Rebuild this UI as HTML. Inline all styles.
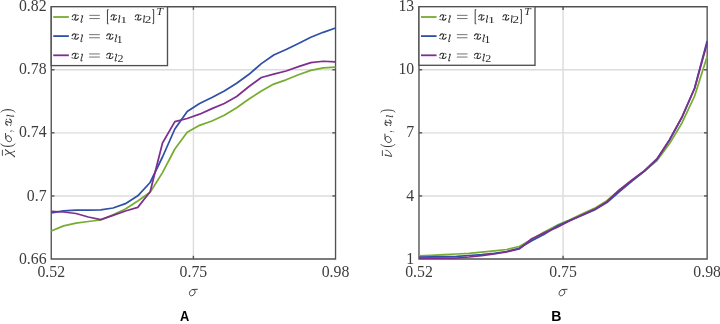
<!DOCTYPE html>
<html><head><meta charset="utf-8"><style>
html,body{margin:0;padding:0;background:#fff;}
body{width:720px;height:324px;overflow:hidden;font-family:"Liberation Serif",serif;}
svg{display:block;will-change:transform;}
</style></head><body>
<svg width="720" height="324" viewBox="0 0 720 324">
<rect width="720" height="324" fill="#fff"/>
<line x1="51.24" y1="69.78" x2="335.55" y2="69.78" stroke="#dcdcdc" stroke-width="1.4"/>
<line x1="51.24" y1="132.85" x2="335.55" y2="132.85" stroke="#dcdcdc" stroke-width="1.4"/>
<line x1="51.24" y1="195.93" x2="335.55" y2="195.93" stroke="#dcdcdc" stroke-width="1.4"/>
<line x1="193.40" y1="6.7" x2="193.40" y2="259.0" stroke="#dcdcdc" stroke-width="1.4"/>
<path d="M51.24 6.7H335.55V259.0H51.24Z" fill="none" stroke="#505050" stroke-width="1.35"/>
<line x1="51.24" y1="69.78" x2="54.440000000000005" y2="69.78" stroke="#505050" stroke-width="1.35"/>
<line x1="335.55" y1="69.78" x2="332.35" y2="69.78" stroke="#505050" stroke-width="1.35"/>
<line x1="51.24" y1="132.85" x2="54.440000000000005" y2="132.85" stroke="#505050" stroke-width="1.35"/>
<line x1="335.55" y1="132.85" x2="332.35" y2="132.85" stroke="#505050" stroke-width="1.35"/>
<line x1="51.24" y1="195.93" x2="54.440000000000005" y2="195.93" stroke="#505050" stroke-width="1.35"/>
<line x1="335.55" y1="195.93" x2="332.35" y2="195.93" stroke="#505050" stroke-width="1.35"/>
<line x1="193.40" y1="6.7" x2="193.40" y2="9.9" stroke="#505050" stroke-width="1.35"/>
<line x1="193.40" y1="259.0" x2="193.40" y2="255.8" stroke="#505050" stroke-width="1.35"/>
<polyline points="51.24,231.00 63.60,225.90 75.96,223.10 88.32,221.50 100.69,220.00 113.05,214.80 125.41,209.00 137.77,201.00 150.13,192.30 162.49,172.60 174.85,149.00 187.21,132.30 199.58,125.30 211.94,121.00 224.30,115.30 236.66,107.80 249.02,99.00 261.38,91.00 273.74,84.10 286.10,79.80 298.47,74.80 310.83,70.40 323.19,67.90 335.55,67.10" fill="none" stroke="#77ac30" stroke-width="1.75" stroke-linejoin="round" stroke-linecap="butt"/>
<polyline points="51.24,212.90 63.60,210.80 75.96,210.10 88.32,210.10 100.69,209.80 113.05,208.00 125.41,203.70 137.77,195.80 150.13,182.50 162.49,157.00 174.85,129.00 187.21,111.50 199.58,103.50 211.94,97.50 224.30,91.00 236.66,83.30 249.02,74.30 261.38,63.60 273.74,55.00 286.10,49.50 298.47,43.50 310.83,37.30 323.19,32.30 335.55,28.00" fill="none" stroke="#3050a8" stroke-width="1.75" stroke-linejoin="round" stroke-linecap="butt"/>
<polyline points="51.24,211.30 63.60,212.00 75.96,213.50 88.32,217.00 100.69,219.70 113.05,215.40 125.41,211.00 137.77,207.40 150.13,191.70 162.49,143.00 174.85,121.60 187.21,118.50 199.58,114.20 211.94,108.60 224.30,103.50 236.66,96.50 249.02,86.50 261.38,77.50 273.74,74.20 286.10,71.00 298.47,66.70 310.83,62.70 323.19,61.25 335.55,61.90" fill="none" stroke="#7e2f8e" stroke-width="1.75" stroke-linejoin="round" stroke-linecap="butt"/>
<line x1="418.97" y1="69.78" x2="707.15" y2="69.78" stroke="#dcdcdc" stroke-width="1.4"/>
<line x1="418.97" y1="132.85" x2="707.15" y2="132.85" stroke="#dcdcdc" stroke-width="1.4"/>
<line x1="418.97" y1="195.93" x2="707.15" y2="195.93" stroke="#dcdcdc" stroke-width="1.4"/>
<line x1="563.06" y1="6.7" x2="563.06" y2="259.0" stroke="#dcdcdc" stroke-width="1.4"/>
<path d="M418.97 6.7H707.15V259.0H418.97Z" fill="none" stroke="#505050" stroke-width="1.35"/>
<line x1="418.97" y1="69.78" x2="422.17" y2="69.78" stroke="#505050" stroke-width="1.35"/>
<line x1="707.15" y1="69.78" x2="703.9499999999999" y2="69.78" stroke="#505050" stroke-width="1.35"/>
<line x1="418.97" y1="132.85" x2="422.17" y2="132.85" stroke="#505050" stroke-width="1.35"/>
<line x1="707.15" y1="132.85" x2="703.9499999999999" y2="132.85" stroke="#505050" stroke-width="1.35"/>
<line x1="418.97" y1="195.93" x2="422.17" y2="195.93" stroke="#505050" stroke-width="1.35"/>
<line x1="707.15" y1="195.93" x2="703.9499999999999" y2="195.93" stroke="#505050" stroke-width="1.35"/>
<line x1="563.06" y1="6.7" x2="563.06" y2="9.9" stroke="#505050" stroke-width="1.35"/>
<line x1="563.06" y1="259.0" x2="563.06" y2="255.8" stroke="#505050" stroke-width="1.35"/>
<polyline points="418.97,255.80 431.50,255.30 444.03,254.70 456.56,254.00 469.09,253.30 481.62,252.20 494.15,250.90 506.68,249.50 519.21,246.50 531.74,239.60 544.27,232.10 556.80,225.40 569.32,220.00 581.85,214.00 594.38,208.40 606.91,200.70 619.44,190.00 631.97,180.50 644.50,171.00 657.03,160.50 669.56,143.60 682.09,122.70 694.62,96.00 707.15,56.50" fill="none" stroke="#77ac30" stroke-width="1.75" stroke-linejoin="round" stroke-linecap="butt"/>
<polyline points="418.97,257.00 431.50,256.80 444.03,256.60 456.56,256.40 469.09,255.50 481.62,254.70 494.15,253.30 506.68,251.50 519.21,248.30 531.74,240.80 544.27,234.20 556.80,226.30 569.32,220.60 581.85,215.50 594.38,210.00 606.91,202.50 619.44,191.50 631.97,181.00 644.50,171.00 657.03,159.00 669.56,140.00 682.09,117.00 694.62,88.00 707.15,41.00" fill="none" stroke="#3050a8" stroke-width="1.75" stroke-linejoin="round" stroke-linecap="butt"/>
<polyline points="418.97,258.00 431.50,258.00 444.03,258.00 456.56,258.00 469.09,257.00 481.62,255.60 494.15,254.00 506.68,251.80 519.21,249.00 531.74,238.75 544.27,232.90 556.80,227.50 569.32,221.00 581.85,215.00 594.38,209.40 606.91,201.70 619.44,190.00 631.97,180.00 644.50,170.60 657.03,158.90 669.56,139.70 682.09,116.90 694.62,88.50 707.15,43.00" fill="none" stroke="#7e2f8e" stroke-width="1.75" stroke-linejoin="round" stroke-linecap="butt"/>
<rect x="51.24" y="6.7" width="116.26" height="58.90" fill="#fff" stroke="#505050" stroke-width="1.35"/>
<line x1="53.24" y1="17.0" x2="68.84" y2="17.0" stroke="#77ac30" stroke-width="1.8"/>
<line x1="53.24" y1="36.1" x2="68.84" y2="36.1" stroke="#3050a8" stroke-width="1.8"/>
<line x1="53.24" y1="55.3" x2="68.84" y2="55.3" stroke="#7e2f8e" stroke-width="1.8"/>
<g transform="translate(71.450,14.550) scale(7.300,5.700)"><path d="M0.12 0.36 C0.18 0.12 0.36 0.02 0.5 0.05 C0.63 0.09 0.62 0.22 0.58 0.36 L0.47 0.74 C0.43 0.9 0.5 0.99 0.63 0.97 C0.76 0.95 0.88 0.84 0.93 0.68" fill="none" stroke="#2a2a2a" stroke-width="1.1" vector-effect="non-scaling-stroke" stroke-linecap="round"/><path d="M0.92 0.16 C0.88 0.02 0.7 0.0 0.6 0.12 M0.1 0.85 C0.14 0.99 0.33 1.0 0.44 0.88" fill="none" stroke="#2a2a2a" stroke-width="0.5" vector-effect="non-scaling-stroke" stroke-linecap="round"/><ellipse cx="0.9" cy="0.17" rx="0.0753" ry="0.0965" fill="#2a2a2a"/><ellipse cx="0.11" cy="0.84" rx="0.0753" ry="0.0965" fill="#2a2a2a"/></g>
<g transform="translate(80.300,15.600) scale(2.500,7.400)"><path d="M0.55 0.04 L0.98 0.02 L0.3 0.76 C0.16 0.96 0.42 1.02 0.72 0.84" fill="none" stroke="#2a2a2a" stroke-width="1.0" vector-effect="non-scaling-stroke" stroke-linecap="round" stroke-linejoin="round"/></g>
<path d="M89.30 15.35H99.80M89.30 18.55H99.80" stroke="#2a2a2a" stroke-width="0.65" fill="none"/>
<path d="M108.55 9.70H107.45V23.80H108.55" stroke="#2a2a2a" stroke-width="0.9" fill="none"/>
<g transform="translate(110.350,14.550) scale(6.500,5.700)"><path d="M0.12 0.36 C0.18 0.12 0.36 0.02 0.5 0.05 C0.63 0.09 0.62 0.22 0.58 0.36 L0.47 0.74 C0.43 0.9 0.5 0.99 0.63 0.97 C0.76 0.95 0.88 0.84 0.93 0.68" fill="none" stroke="#2a2a2a" stroke-width="1.1" vector-effect="non-scaling-stroke" stroke-linecap="round"/><path d="M0.92 0.16 C0.88 0.02 0.7 0.0 0.6 0.12 M0.1 0.85 C0.14 0.99 0.33 1.0 0.44 0.88" fill="none" stroke="#2a2a2a" stroke-width="0.5" vector-effect="non-scaling-stroke" stroke-linecap="round"/><ellipse cx="0.9" cy="0.17" rx="0.0846" ry="0.0965" fill="#2a2a2a"/><ellipse cx="0.11" cy="0.84" rx="0.0846" ry="0.0965" fill="#2a2a2a"/></g>
<g transform="translate(118.200,15.500) scale(1.800,7.500)"><path d="M0.55 0.04 L0.98 0.02 L0.3 0.76 C0.16 0.96 0.42 1.02 0.72 0.84" fill="none" stroke="#2a2a2a" stroke-width="1.0" vector-effect="non-scaling-stroke" stroke-linecap="round" stroke-linejoin="round"/></g>
<text transform="translate(120.175,23.200) scale(0.69602,0.44697)" font-family="Liberation Serif" font-size="20.0" fill="#2a2a2a">1</text>
<g transform="translate(134.450,14.550) scale(7.100,5.700)"><path d="M0.12 0.36 C0.18 0.12 0.36 0.02 0.5 0.05 C0.63 0.09 0.62 0.22 0.58 0.36 L0.47 0.74 C0.43 0.9 0.5 0.99 0.63 0.97 C0.76 0.95 0.88 0.84 0.93 0.68" fill="none" stroke="#2a2a2a" stroke-width="1.1" vector-effect="non-scaling-stroke" stroke-linecap="round"/><path d="M0.92 0.16 C0.88 0.02 0.7 0.0 0.6 0.12 M0.1 0.85 C0.14 0.99 0.33 1.0 0.44 0.88" fill="none" stroke="#2a2a2a" stroke-width="0.5" vector-effect="non-scaling-stroke" stroke-linecap="round"/><ellipse cx="0.9" cy="0.17" rx="0.0775" ry="0.0965" fill="#2a2a2a"/><ellipse cx="0.11" cy="0.84" rx="0.0775" ry="0.0965" fill="#2a2a2a"/></g>
<g transform="translate(143.300,15.500) scale(1.200,7.500)"><path d="M0.55 0.04 L0.98 0.02 L0.3 0.76 C0.16 0.96 0.42 1.02 0.72 0.84" fill="none" stroke="#2a2a2a" stroke-width="1.0" vector-effect="non-scaling-stroke" stroke-linecap="round" stroke-linejoin="round"/></g>
<text transform="translate(144.718,23.200) scale(0.66085,0.47583)" font-family="Liberation Serif" font-size="20.0" fill="#2a2a2a">2</text>
<path d="M152.40 9.60H153.65V23.60H152.40" stroke="#2a2a2a" stroke-width="0.9" fill="none"/>
<text transform="translate(156.531,15.000) scale(0.58288,0.48855)" font-family="Liberation Serif" font-size="20.0" font-style="italic" fill="#2a2a2a">T</text>
<g transform="translate(71.250,33.650) scale(7.650,5.750)"><path d="M0.12 0.36 C0.18 0.12 0.36 0.02 0.5 0.05 C0.63 0.09 0.62 0.22 0.58 0.36 L0.47 0.74 C0.43 0.9 0.5 0.99 0.63 0.97 C0.76 0.95 0.88 0.84 0.93 0.68" fill="none" stroke="#2a2a2a" stroke-width="1.1" vector-effect="non-scaling-stroke" stroke-linecap="round"/><path d="M0.92 0.16 C0.88 0.02 0.7 0.0 0.6 0.12 M0.1 0.85 C0.14 0.99 0.33 1.0 0.44 0.88" fill="none" stroke="#2a2a2a" stroke-width="0.5" vector-effect="non-scaling-stroke" stroke-linecap="round"/><ellipse cx="0.9" cy="0.17" rx="0.0719" ry="0.0957" fill="#2a2a2a"/><ellipse cx="0.11" cy="0.84" rx="0.0719" ry="0.0957" fill="#2a2a2a"/></g>
<g transform="translate(80.300,34.700) scale(2.400,7.700)"><path d="M0.55 0.04 L0.98 0.02 L0.3 0.76 C0.16 0.96 0.42 1.02 0.72 0.84" fill="none" stroke="#2a2a2a" stroke-width="1.0" vector-effect="non-scaling-stroke" stroke-linecap="round" stroke-linejoin="round"/></g>
<path d="M89.10 34.65H99.80M89.10 37.75H99.80" stroke="#2a2a2a" stroke-width="0.65" fill="none"/>
<g transform="translate(105.850,33.650) scale(7.600,5.750)"><path d="M0.12 0.36 C0.18 0.12 0.36 0.02 0.5 0.05 C0.63 0.09 0.62 0.22 0.58 0.36 L0.47 0.74 C0.43 0.9 0.5 0.99 0.63 0.97 C0.76 0.95 0.88 0.84 0.93 0.68" fill="none" stroke="#2a2a2a" stroke-width="1.1" vector-effect="non-scaling-stroke" stroke-linecap="round"/><path d="M0.92 0.16 C0.88 0.02 0.7 0.0 0.6 0.12 M0.1 0.85 C0.14 0.99 0.33 1.0 0.44 0.88" fill="none" stroke="#2a2a2a" stroke-width="0.5" vector-effect="non-scaling-stroke" stroke-linecap="round"/><ellipse cx="0.9" cy="0.17" rx="0.0724" ry="0.0957" fill="#2a2a2a"/><ellipse cx="0.11" cy="0.84" rx="0.0724" ry="0.0957" fill="#2a2a2a"/></g>
<g transform="translate(114.550,34.700) scale(2.350,7.700)"><path d="M0.55 0.04 L0.98 0.02 L0.3 0.76 C0.16 0.96 0.42 1.02 0.72 0.84" fill="none" stroke="#2a2a2a" stroke-width="1.0" vector-effect="non-scaling-stroke" stroke-linecap="round" stroke-linejoin="round"/></g>
<text transform="translate(116.600,42.600) scale(0.62500,0.47727)" font-family="Liberation Serif" font-size="20.0" fill="#2a2a2a">1</text>
<g transform="translate(71.250,52.950) scale(7.650,5.750)"><path d="M0.12 0.36 C0.18 0.12 0.36 0.02 0.5 0.05 C0.63 0.09 0.62 0.22 0.58 0.36 L0.47 0.74 C0.43 0.9 0.5 0.99 0.63 0.97 C0.76 0.95 0.88 0.84 0.93 0.68" fill="none" stroke="#2a2a2a" stroke-width="1.1" vector-effect="non-scaling-stroke" stroke-linecap="round"/><path d="M0.92 0.16 C0.88 0.02 0.7 0.0 0.6 0.12 M0.1 0.85 C0.14 0.99 0.33 1.0 0.44 0.88" fill="none" stroke="#2a2a2a" stroke-width="0.5" vector-effect="non-scaling-stroke" stroke-linecap="round"/><ellipse cx="0.9" cy="0.17" rx="0.0719" ry="0.0957" fill="#2a2a2a"/><ellipse cx="0.11" cy="0.84" rx="0.0719" ry="0.0957" fill="#2a2a2a"/></g>
<g transform="translate(80.300,54.000) scale(2.400,7.700)"><path d="M0.55 0.04 L0.98 0.02 L0.3 0.76 C0.16 0.96 0.42 1.02 0.72 0.84" fill="none" stroke="#2a2a2a" stroke-width="1.0" vector-effect="non-scaling-stroke" stroke-linecap="round" stroke-linejoin="round"/></g>
<path d="M89.10 53.95H99.80M89.10 57.05H99.80" stroke="#2a2a2a" stroke-width="0.65" fill="none"/>
<g transform="translate(105.850,52.950) scale(7.600,5.750)"><path d="M0.12 0.36 C0.18 0.12 0.36 0.02 0.5 0.05 C0.63 0.09 0.62 0.22 0.58 0.36 L0.47 0.74 C0.43 0.9 0.5 0.99 0.63 0.97 C0.76 0.95 0.88 0.84 0.93 0.68" fill="none" stroke="#2a2a2a" stroke-width="1.1" vector-effect="non-scaling-stroke" stroke-linecap="round"/><path d="M0.92 0.16 C0.88 0.02 0.7 0.0 0.6 0.12 M0.1 0.85 C0.14 0.99 0.33 1.0 0.44 0.88" fill="none" stroke="#2a2a2a" stroke-width="0.5" vector-effect="non-scaling-stroke" stroke-linecap="round"/><ellipse cx="0.9" cy="0.17" rx="0.0724" ry="0.0957" fill="#2a2a2a"/><ellipse cx="0.11" cy="0.84" rx="0.0724" ry="0.0957" fill="#2a2a2a"/></g>
<g transform="translate(114.550,54.000) scale(2.350,7.700)"><path d="M0.55 0.04 L0.98 0.02 L0.3 0.76 C0.16 0.96 0.42 1.02 0.72 0.84" fill="none" stroke="#2a2a2a" stroke-width="1.0" vector-effect="non-scaling-stroke" stroke-linecap="round" stroke-linejoin="round"/></g>
<text transform="translate(117.573,61.900) scale(0.59850,0.49094)" font-family="Liberation Serif" font-size="20.0" fill="#2a2a2a">2</text>
<rect x="418.97" y="6.7" width="116.03" height="58.60" fill="#fff" stroke="#505050" stroke-width="1.35"/>
<line x1="420.97" y1="17.0" x2="436.57" y2="17.0" stroke="#77ac30" stroke-width="1.8"/>
<line x1="420.97" y1="36.1" x2="436.57" y2="36.1" stroke="#3050a8" stroke-width="1.8"/>
<line x1="420.97" y1="55.3" x2="436.57" y2="55.3" stroke="#7e2f8e" stroke-width="1.8"/>
<g transform="translate(439.180,14.550) scale(7.300,5.700)"><path d="M0.12 0.36 C0.18 0.12 0.36 0.02 0.5 0.05 C0.63 0.09 0.62 0.22 0.58 0.36 L0.47 0.74 C0.43 0.9 0.5 0.99 0.63 0.97 C0.76 0.95 0.88 0.84 0.93 0.68" fill="none" stroke="#2a2a2a" stroke-width="1.1" vector-effect="non-scaling-stroke" stroke-linecap="round"/><path d="M0.92 0.16 C0.88 0.02 0.7 0.0 0.6 0.12 M0.1 0.85 C0.14 0.99 0.33 1.0 0.44 0.88" fill="none" stroke="#2a2a2a" stroke-width="0.5" vector-effect="non-scaling-stroke" stroke-linecap="round"/><ellipse cx="0.9" cy="0.17" rx="0.0753" ry="0.0965" fill="#2a2a2a"/><ellipse cx="0.11" cy="0.84" rx="0.0753" ry="0.0965" fill="#2a2a2a"/></g>
<g transform="translate(448.030,15.600) scale(2.500,7.400)"><path d="M0.55 0.04 L0.98 0.02 L0.3 0.76 C0.16 0.96 0.42 1.02 0.72 0.84" fill="none" stroke="#2a2a2a" stroke-width="1.0" vector-effect="non-scaling-stroke" stroke-linecap="round" stroke-linejoin="round"/></g>
<path d="M457.03 15.35H467.53M457.03 18.55H467.53" stroke="#2a2a2a" stroke-width="0.65" fill="none"/>
<path d="M476.28 9.70H475.18V23.80H476.28" stroke="#2a2a2a" stroke-width="0.9" fill="none"/>
<g transform="translate(478.080,14.550) scale(6.500,5.700)"><path d="M0.12 0.36 C0.18 0.12 0.36 0.02 0.5 0.05 C0.63 0.09 0.62 0.22 0.58 0.36 L0.47 0.74 C0.43 0.9 0.5 0.99 0.63 0.97 C0.76 0.95 0.88 0.84 0.93 0.68" fill="none" stroke="#2a2a2a" stroke-width="1.1" vector-effect="non-scaling-stroke" stroke-linecap="round"/><path d="M0.92 0.16 C0.88 0.02 0.7 0.0 0.6 0.12 M0.1 0.85 C0.14 0.99 0.33 1.0 0.44 0.88" fill="none" stroke="#2a2a2a" stroke-width="0.5" vector-effect="non-scaling-stroke" stroke-linecap="round"/><ellipse cx="0.9" cy="0.17" rx="0.0846" ry="0.0965" fill="#2a2a2a"/><ellipse cx="0.11" cy="0.84" rx="0.0846" ry="0.0965" fill="#2a2a2a"/></g>
<g transform="translate(485.930,15.500) scale(1.800,7.500)"><path d="M0.55 0.04 L0.98 0.02 L0.3 0.76 C0.16 0.96 0.42 1.02 0.72 0.84" fill="none" stroke="#2a2a2a" stroke-width="1.0" vector-effect="non-scaling-stroke" stroke-linecap="round" stroke-linejoin="round"/></g>
<text transform="translate(487.905,23.200) scale(0.69602,0.44697)" font-family="Liberation Serif" font-size="20.0" fill="#2a2a2a">1</text>
<g transform="translate(502.180,14.550) scale(7.100,5.700)"><path d="M0.12 0.36 C0.18 0.12 0.36 0.02 0.5 0.05 C0.63 0.09 0.62 0.22 0.58 0.36 L0.47 0.74 C0.43 0.9 0.5 0.99 0.63 0.97 C0.76 0.95 0.88 0.84 0.93 0.68" fill="none" stroke="#2a2a2a" stroke-width="1.1" vector-effect="non-scaling-stroke" stroke-linecap="round"/><path d="M0.92 0.16 C0.88 0.02 0.7 0.0 0.6 0.12 M0.1 0.85 C0.14 0.99 0.33 1.0 0.44 0.88" fill="none" stroke="#2a2a2a" stroke-width="0.5" vector-effect="non-scaling-stroke" stroke-linecap="round"/><ellipse cx="0.9" cy="0.17" rx="0.0775" ry="0.0965" fill="#2a2a2a"/><ellipse cx="0.11" cy="0.84" rx="0.0775" ry="0.0965" fill="#2a2a2a"/></g>
<g transform="translate(511.030,15.500) scale(1.200,7.500)"><path d="M0.55 0.04 L0.98 0.02 L0.3 0.76 C0.16 0.96 0.42 1.02 0.72 0.84" fill="none" stroke="#2a2a2a" stroke-width="1.0" vector-effect="non-scaling-stroke" stroke-linecap="round" stroke-linejoin="round"/></g>
<text transform="translate(512.448,23.200) scale(0.66085,0.47583)" font-family="Liberation Serif" font-size="20.0" fill="#2a2a2a">2</text>
<path d="M520.13 9.60H521.38V23.60H520.13" stroke="#2a2a2a" stroke-width="0.9" fill="none"/>
<text transform="translate(524.261,15.000) scale(0.58288,0.48855)" font-family="Liberation Serif" font-size="20.0" font-style="italic" fill="#2a2a2a">T</text>
<g transform="translate(438.980,33.650) scale(7.650,5.750)"><path d="M0.12 0.36 C0.18 0.12 0.36 0.02 0.5 0.05 C0.63 0.09 0.62 0.22 0.58 0.36 L0.47 0.74 C0.43 0.9 0.5 0.99 0.63 0.97 C0.76 0.95 0.88 0.84 0.93 0.68" fill="none" stroke="#2a2a2a" stroke-width="1.1" vector-effect="non-scaling-stroke" stroke-linecap="round"/><path d="M0.92 0.16 C0.88 0.02 0.7 0.0 0.6 0.12 M0.1 0.85 C0.14 0.99 0.33 1.0 0.44 0.88" fill="none" stroke="#2a2a2a" stroke-width="0.5" vector-effect="non-scaling-stroke" stroke-linecap="round"/><ellipse cx="0.9" cy="0.17" rx="0.0719" ry="0.0957" fill="#2a2a2a"/><ellipse cx="0.11" cy="0.84" rx="0.0719" ry="0.0957" fill="#2a2a2a"/></g>
<g transform="translate(448.030,34.700) scale(2.400,7.700)"><path d="M0.55 0.04 L0.98 0.02 L0.3 0.76 C0.16 0.96 0.42 1.02 0.72 0.84" fill="none" stroke="#2a2a2a" stroke-width="1.0" vector-effect="non-scaling-stroke" stroke-linecap="round" stroke-linejoin="round"/></g>
<path d="M456.83 34.65H467.53M456.83 37.75H467.53" stroke="#2a2a2a" stroke-width="0.65" fill="none"/>
<g transform="translate(473.580,33.650) scale(7.600,5.750)"><path d="M0.12 0.36 C0.18 0.12 0.36 0.02 0.5 0.05 C0.63 0.09 0.62 0.22 0.58 0.36 L0.47 0.74 C0.43 0.9 0.5 0.99 0.63 0.97 C0.76 0.95 0.88 0.84 0.93 0.68" fill="none" stroke="#2a2a2a" stroke-width="1.1" vector-effect="non-scaling-stroke" stroke-linecap="round"/><path d="M0.92 0.16 C0.88 0.02 0.7 0.0 0.6 0.12 M0.1 0.85 C0.14 0.99 0.33 1.0 0.44 0.88" fill="none" stroke="#2a2a2a" stroke-width="0.5" vector-effect="non-scaling-stroke" stroke-linecap="round"/><ellipse cx="0.9" cy="0.17" rx="0.0724" ry="0.0957" fill="#2a2a2a"/><ellipse cx="0.11" cy="0.84" rx="0.0724" ry="0.0957" fill="#2a2a2a"/></g>
<g transform="translate(482.280,34.700) scale(2.350,7.700)"><path d="M0.55 0.04 L0.98 0.02 L0.3 0.76 C0.16 0.96 0.42 1.02 0.72 0.84" fill="none" stroke="#2a2a2a" stroke-width="1.0" vector-effect="non-scaling-stroke" stroke-linecap="round" stroke-linejoin="round"/></g>
<text transform="translate(484.330,42.600) scale(0.62500,0.47727)" font-family="Liberation Serif" font-size="20.0" fill="#2a2a2a">1</text>
<g transform="translate(438.980,52.950) scale(7.650,5.750)"><path d="M0.12 0.36 C0.18 0.12 0.36 0.02 0.5 0.05 C0.63 0.09 0.62 0.22 0.58 0.36 L0.47 0.74 C0.43 0.9 0.5 0.99 0.63 0.97 C0.76 0.95 0.88 0.84 0.93 0.68" fill="none" stroke="#2a2a2a" stroke-width="1.1" vector-effect="non-scaling-stroke" stroke-linecap="round"/><path d="M0.92 0.16 C0.88 0.02 0.7 0.0 0.6 0.12 M0.1 0.85 C0.14 0.99 0.33 1.0 0.44 0.88" fill="none" stroke="#2a2a2a" stroke-width="0.5" vector-effect="non-scaling-stroke" stroke-linecap="round"/><ellipse cx="0.9" cy="0.17" rx="0.0719" ry="0.0957" fill="#2a2a2a"/><ellipse cx="0.11" cy="0.84" rx="0.0719" ry="0.0957" fill="#2a2a2a"/></g>
<g transform="translate(448.030,54.000) scale(2.400,7.700)"><path d="M0.55 0.04 L0.98 0.02 L0.3 0.76 C0.16 0.96 0.42 1.02 0.72 0.84" fill="none" stroke="#2a2a2a" stroke-width="1.0" vector-effect="non-scaling-stroke" stroke-linecap="round" stroke-linejoin="round"/></g>
<path d="M456.83 53.95H467.53M456.83 57.05H467.53" stroke="#2a2a2a" stroke-width="0.65" fill="none"/>
<g transform="translate(473.580,52.950) scale(7.600,5.750)"><path d="M0.12 0.36 C0.18 0.12 0.36 0.02 0.5 0.05 C0.63 0.09 0.62 0.22 0.58 0.36 L0.47 0.74 C0.43 0.9 0.5 0.99 0.63 0.97 C0.76 0.95 0.88 0.84 0.93 0.68" fill="none" stroke="#2a2a2a" stroke-width="1.1" vector-effect="non-scaling-stroke" stroke-linecap="round"/><path d="M0.92 0.16 C0.88 0.02 0.7 0.0 0.6 0.12 M0.1 0.85 C0.14 0.99 0.33 1.0 0.44 0.88" fill="none" stroke="#2a2a2a" stroke-width="0.5" vector-effect="non-scaling-stroke" stroke-linecap="round"/><ellipse cx="0.9" cy="0.17" rx="0.0724" ry="0.0957" fill="#2a2a2a"/><ellipse cx="0.11" cy="0.84" rx="0.0724" ry="0.0957" fill="#2a2a2a"/></g>
<g transform="translate(482.280,54.000) scale(2.350,7.700)"><path d="M0.55 0.04 L0.98 0.02 L0.3 0.76 C0.16 0.96 0.42 1.02 0.72 0.84" fill="none" stroke="#2a2a2a" stroke-width="1.0" vector-effect="non-scaling-stroke" stroke-linecap="round" stroke-linejoin="round"/></g>
<text transform="translate(485.303,61.900) scale(0.59850,0.49094)" font-family="Liberation Serif" font-size="20.0" fill="#2a2a2a">2</text>
<text transform="translate(46.54,11.30) scale(0.97,1)" text-anchor="end" font-family="Liberation Serif" font-size="16.3" fill="#3c3c3c">0.82</text>
<text transform="translate(46.54,74.38) scale(0.97,1)" text-anchor="end" font-family="Liberation Serif" font-size="16.3" fill="#3c3c3c">0.78</text>
<text transform="translate(46.54,137.45) scale(0.97,1)" text-anchor="end" font-family="Liberation Serif" font-size="16.3" fill="#3c3c3c">0.74</text>
<text transform="translate(46.54,200.53) scale(0.97,1)" text-anchor="end" font-family="Liberation Serif" font-size="16.3" fill="#3c3c3c">0.7</text>
<text transform="translate(46.54,263.60) scale(0.97,1)" text-anchor="end" font-family="Liberation Serif" font-size="16.3" fill="#3c3c3c">0.66</text>
<text transform="translate(51.24,276.9) scale(0.97,1)" text-anchor="middle" font-family="Liberation Serif" font-size="16.3" fill="#3c3c3c">0.52</text>
<text transform="translate(193.40,276.9) scale(0.97,1)" text-anchor="middle" font-family="Liberation Serif" font-size="16.3" fill="#3c3c3c">0.75</text>
<text transform="translate(335.55,276.9) scale(0.97,1)" text-anchor="middle" font-family="Liberation Serif" font-size="16.3" fill="#3c3c3c">0.98</text>
<text transform="translate(414.27,11.30) scale(0.97,1)" text-anchor="end" font-family="Liberation Serif" font-size="16.3" fill="#3c3c3c">13</text>
<text transform="translate(414.27,74.38) scale(0.97,1)" text-anchor="end" font-family="Liberation Serif" font-size="16.3" fill="#3c3c3c">10</text>
<text transform="translate(414.27,137.45) scale(0.97,1)" text-anchor="end" font-family="Liberation Serif" font-size="16.3" fill="#3c3c3c">7</text>
<text transform="translate(414.27,200.53) scale(0.97,1)" text-anchor="end" font-family="Liberation Serif" font-size="16.3" fill="#3c3c3c">4</text>
<text transform="translate(414.27,263.60) scale(0.97,1)" text-anchor="end" font-family="Liberation Serif" font-size="16.3" fill="#3c3c3c">1</text>
<text transform="translate(418.97,276.9) scale(0.97,1)" text-anchor="middle" font-family="Liberation Serif" font-size="16.3" fill="#3c3c3c">0.52</text>
<text transform="translate(563.06,276.9) scale(0.97,1)" text-anchor="middle" font-family="Liberation Serif" font-size="16.3" fill="#3c3c3c">0.75</text>
<text transform="translate(707.15,276.9) scale(0.97,1)" text-anchor="middle" font-family="Liberation Serif" font-size="16.3" fill="#3c3c3c">0.98</text>
<text transform="translate(11.799,156.211) rotate(-90) scale(0.80556,0.75149)" font-family="Liberation Serif" font-size="20.0" font-style="italic" fill="#3c3c3c">χ</text>
<line x1="2.4" y1="149.8" x2="2.4" y2="155.8" stroke="#3c3c3c" stroke-width="0.9"/>
<text transform="translate(11.665,147.399) rotate(-90) scale(0.68093,0.78280)" font-family="Liberation Serif" font-size="20.0" fill="#3c3c3c">(</text>
<g transform="translate(5.250,141.850) rotate(-90) scale(8.500,6.300)"><path d="M1.0 0.05 L0.44 0.08 C0.2 0.12 0.02 0.4 0.02 0.65 C0.02 0.88 0.13 1.0 0.28 0.99 C0.52 0.97 0.74 0.66 0.72 0.4 C0.71 0.2 0.57 0.08 0.44 0.08" fill="none" stroke="#3c3c3c" stroke-width="1.0" vector-effect="non-scaling-stroke" stroke-linecap="round" stroke-linejoin="round"/></g>
<text transform="translate(12.073,131.931) rotate(-90) scale(0.36913,0.83658)" font-family="Liberation Serif" font-size="20.0" fill="#3c3c3c">,</text>
<g transform="translate(5.450,126.050) rotate(-90) scale(7.500,6.100)"><path d="M0.12 0.36 C0.18 0.12 0.36 0.02 0.5 0.05 C0.63 0.09 0.62 0.22 0.58 0.36 L0.47 0.74 C0.43 0.9 0.5 0.99 0.63 0.97 C0.76 0.95 0.88 0.84 0.93 0.68" fill="none" stroke="#3c3c3c" stroke-width="1.1" vector-effect="non-scaling-stroke" stroke-linecap="round"/><path d="M0.92 0.16 C0.88 0.02 0.7 0.0 0.6 0.12 M0.1 0.85 C0.14 0.99 0.33 1.0 0.44 0.88" fill="none" stroke="#3c3c3c" stroke-width="0.5" vector-effect="non-scaling-stroke" stroke-linecap="round"/><ellipse cx="0.9" cy="0.17" rx="0.0733" ry="0.0902" fill="#3c3c3c"/><ellipse cx="0.11" cy="0.84" rx="0.0733" ry="0.0902" fill="#3c3c3c"/></g>
<g transform="translate(6.700,116.900) rotate(-90) scale(1.800,7.600)"><path d="M0.55 0.04 L0.98 0.02 L0.3 0.76 C0.16 0.96 0.42 1.02 0.72 0.84" fill="none" stroke="#3c3c3c" stroke-width="1.0" vector-effect="non-scaling-stroke" stroke-linecap="round" stroke-linejoin="round"/></g>
<text transform="translate(12.154,112.936) rotate(-90) scale(0.68093,0.83241)" font-family="Liberation Serif" font-size="20.0" fill="#3c3c3c">)</text>
<path d="M385.4 155.0 L391.7 156.5" stroke="#3c3c3c" stroke-width="1.15" fill="none"/>
<path d="M385.4 150.1 C388.6 150.3 391.2 153.2 391.7 156.5" stroke="#3c3c3c" stroke-width="0.85" fill="none"/>
<path d="M385.2 154.2 L385.4 156.0" stroke="#3c3c3c" stroke-width="0.9" fill="none"/>
<line x1="382.4" y1="150.3" x2="382.4" y2="156.0" stroke="#3c3c3c" stroke-width="0.9"/>
<text transform="translate(391.548,147.496) rotate(-90) scale(0.56420,0.81036)" font-family="Liberation Serif" font-size="20.0" fill="#3c3c3c">(</text>
<g transform="translate(384.550,142.650) rotate(-90) scale(8.600,6.700)"><path d="M1.0 0.05 L0.44 0.08 C0.2 0.12 0.02 0.4 0.02 0.65 C0.02 0.88 0.13 1.0 0.28 0.99 C0.52 0.97 0.74 0.66 0.72 0.4 C0.71 0.2 0.57 0.08 0.44 0.08" fill="none" stroke="#3c3c3c" stroke-width="1.0" vector-effect="non-scaling-stroke" stroke-linecap="round" stroke-linejoin="round"/></g>
<text transform="translate(391.633,132.531) rotate(-90) scale(0.36913,0.81712)" font-family="Liberation Serif" font-size="20.0" fill="#3c3c3c">,</text>
<g transform="translate(384.750,126.150) rotate(-90) scale(6.600,6.600)"><path d="M0.12 0.36 C0.18 0.12 0.36 0.02 0.5 0.05 C0.63 0.09 0.62 0.22 0.58 0.36 L0.47 0.74 C0.43 0.9 0.5 0.99 0.63 0.97 C0.76 0.95 0.88 0.84 0.93 0.68" fill="none" stroke="#3c3c3c" stroke-width="1.1" vector-effect="non-scaling-stroke" stroke-linecap="round"/><path d="M0.92 0.16 C0.88 0.02 0.7 0.0 0.6 0.12 M0.1 0.85 C0.14 0.99 0.33 1.0 0.44 0.88" fill="none" stroke="#3c3c3c" stroke-width="0.5" vector-effect="non-scaling-stroke" stroke-linecap="round"/><ellipse cx="0.9" cy="0.17" rx="0.0833" ry="0.0833" fill="#3c3c3c"/><ellipse cx="0.11" cy="0.84" rx="0.0833" ry="0.0833" fill="#3c3c3c"/></g>
<g transform="translate(386.300,117.300) rotate(-90) scale(1.800,7.100)"><path d="M0.55 0.04 L0.98 0.02 L0.3 0.76 C0.16 0.96 0.42 1.02 0.72 0.84" fill="none" stroke="#3c3c3c" stroke-width="1.0" vector-effect="non-scaling-stroke" stroke-linecap="round" stroke-linejoin="round"/></g>
<text transform="translate(391.854,112.874) rotate(-90) scale(0.58366,0.83241)" font-family="Liberation Serif" font-size="20.0" fill="#3c3c3c">)</text>
<g transform="translate(189.250,288.950) scale(8.100,6.900)"><path d="M1.0 0.05 L0.44 0.08 C0.2 0.12 0.02 0.4 0.02 0.65 C0.02 0.88 0.13 1.0 0.28 0.99 C0.52 0.97 0.74 0.66 0.72 0.4 C0.71 0.2 0.57 0.08 0.44 0.08" fill="none" stroke="#3c3c3c" stroke-width="1.0" vector-effect="non-scaling-stroke" stroke-linecap="round" stroke-linejoin="round"/></g>
<g transform="translate(558.950,288.950) scale(8.100,6.900)"><path d="M1.0 0.05 L0.44 0.08 C0.2 0.12 0.02 0.4 0.02 0.65 C0.02 0.88 0.13 1.0 0.28 0.99 C0.52 0.97 0.74 0.66 0.72 0.4 C0.71 0.2 0.57 0.08 0.44 0.08" fill="none" stroke="#3c3c3c" stroke-width="1.0" vector-effect="non-scaling-stroke" stroke-linecap="round" stroke-linejoin="round"/></g>
<text transform="translate(179.880,320.500) scale(0.64083,0.74855)" font-family="Liberation Sans" font-size="20.0" font-weight="bold" fill="#000">A</text>
<text transform="translate(551.155,320.500) scale(0.70492,0.74855)" font-family="Liberation Sans" font-size="20.0" font-weight="bold" fill="#000">B</text>
</svg>
</body></html>
